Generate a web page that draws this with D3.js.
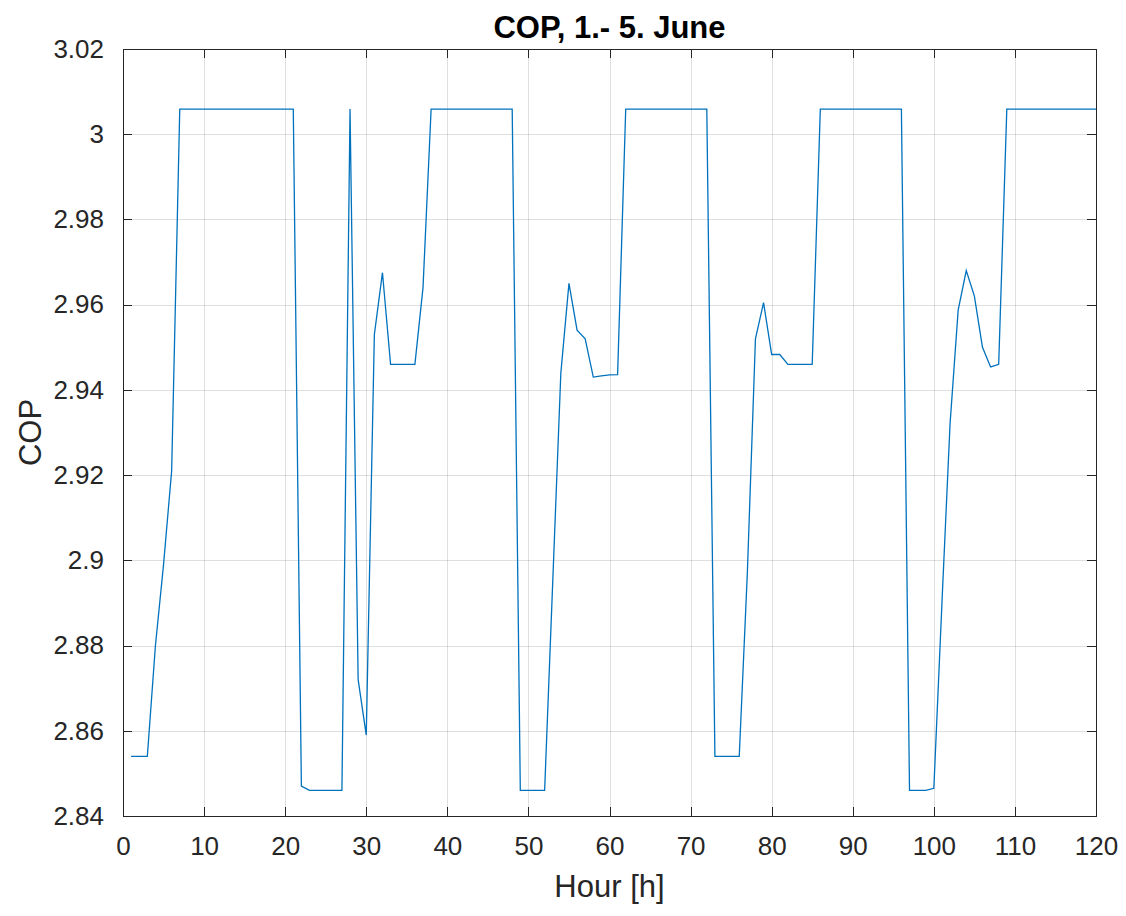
<!DOCTYPE html>
<head>
    <meta charset="utf-8">
    <style>
      body {
          margin: 0;
          background: #fff;
          font-family: 'Liberation Sans', Arial, sans-serif;
      }

      .grid line {
        stroke: #262626;
        stroke-opacity: 0.15;
        stroke-width: 1px;
        shape-rendering: crispEdges;
      }

      .axis path, .axis line {
        stroke: #262626;
        shape-rendering: crispEdges;
      }

      .axis text {
        fill: #262626;
        font-size: 26px;
      }

      .line {
        fill: none;
        stroke: #0072bd;
        stroke-width: 1.3px;
      }
  </style>
</head>
<body>
<svg id="chart" width="1126" height="916"></svg>
<script src="https://cdn.jsdelivr.net/npm/d3@7"></script>
<script>
  // hourly COP, hour 1 .. 120
  const hours = d3.range(1, 121);
  const cop = [
    2.854, 2.854, 2.854, 2.880, 2.899, 2.921,
    3.0059, 3.0059, 3.0059, 3.0059, 3.0059, 3.0059, 3.0059, 3.0059,
    3.0059, 3.0059, 3.0059, 3.0059, 3.0059, 3.0059, 3.0059,
    2.847, 2.846, 2.846, 2.846, 2.846, 2.846,
    3.0059, 2.872, 2.859, 2.953, 2.9675, 2.946, 2.946, 2.946, 2.946, 2.964,
    3.0059, 3.0059, 3.0059, 3.0059, 3.0059, 3.0059, 3.0059, 3.0059, 3.0059, 3.0059, 3.0059,
    2.846, 2.846, 2.846, 2.846,
    2.895, 2.944, 2.965, 2.954, 2.952, 2.943, 2.9433, 2.9435, 2.9436,
    3.0059, 3.0059, 3.0059, 3.0059, 3.0059, 3.0059, 3.0059, 3.0059, 3.0059, 3.0059, 3.0059,
    2.854, 2.854, 2.854, 2.854,
    2.897, 2.952, 2.9605, 2.9483, 2.9483, 2.946, 2.946, 2.946, 2.946,
    3.0059, 3.0059, 3.0059, 3.0059, 3.0059, 3.0059, 3.0059, 3.0059, 3.0059, 3.0059, 3.0059,
    2.846, 2.846, 2.846, 2.8465, 2.890, 2.932, 2.9587, 2.968, 2.962, 2.950, 2.9454, 2.946,
    3.0059, 3.0059, 3.0059, 3.0059, 3.0059, 3.0059, 3.0059, 3.0059, 3.0059, 3.0059, 3.0059, 3.0059
  ];

  const xTicks = [0, 10, 20, 30, 40, 50, 60, 70, 80, 90, 100, 110, 120];
  const yTicks = [2.84, 2.86, 2.88, 2.9, 2.92, 2.94, 2.96, 2.98, 3, 3.02];
  const yTickLabels = ["2.84", "2.86", "2.88", "2.9", "2.92", "2.94", "2.96", "2.98", "3", "3.02"];

  const svg = d3.select("#chart");
  const margin = { top: 49, right: 30, bottom: 100, left: 123 };
  const width = +svg.attr("width") - margin.left - margin.right;
  const height = +svg.attr("height") - margin.top - margin.bottom;

  const g = svg.append("g").attr("transform", `translate(${margin.left},${margin.top})`);

  const x = d3.scaleLinear().domain([0, 120]).range([0, width]);
  const y = d3.scaleLinear().domain([2.84, 3.02]).range([height, 0]);

  // grid
  g.append("g").attr("class", "grid")
    .selectAll("line.v").data(xTicks.slice(1, -1)).join("line")
      .attr("x1", d => Math.round(x(d)) + 0.5).attr("x2", d => Math.round(x(d)) + 0.5)
      .attr("y1", 0).attr("y2", height);
  g.append("g").attr("class", "grid")
    .selectAll("line.h").data(yTicks.slice(1, -1)).join("line")
      .attr("y1", d => Math.round(y(d)) + 0.5).attr("y2", d => Math.round(y(d)) + 0.5)
      .attr("x1", 0).attr("x2", width);

  // data line
  const line = d3.line()
      .x((d, i) => x(hours[i]))
      .y(d => y(d));
  g.append("path")
      .datum(cop)
      .attr("class", "line")
      .attr("d", line);

  // axes, ticks inward, box on
  const tickLen = 9;
  g.append("g")
      .attr("class", "axis")
      .attr("transform", `translate(0,${height})`)
      .call(d3.axisBottom(x).tickValues(xTicks).tickSize(-tickLen).tickPadding(tickLen + 12).tickFormat(d3.format("d")));
  g.append("g")
      .attr("class", "axis")
      .call(d3.axisTop(x).tickValues(xTicks).tickSize(-tickLen).tickFormat(""));
  g.append("g")
      .attr("class", "axis")
      .call(d3.axisLeft(y).tickValues(yTicks).tickSize(-tickLen).tickPadding(tickLen + 10)
        .tickFormat((d, i) => yTickLabels[i]));
  g.append("g")
      .attr("class", "axis")
      .attr("transform", `translate(${width},0)`)
      .call(d3.axisRight(y).tickValues(yTicks).tickSize(-tickLen).tickFormat(""));

  g.selectAll(".axis path").attr("stroke-width", 1.5);

  // labels
  svg.append("text")
      .attr("x", margin.left + width / 2)
      .attr("y", 38)
      .attr("text-anchor", "middle")
      .attr("font-size", 31)
      .attr("font-weight", "bold")
      .attr("fill", "#000")
      .text("COP, 1.- 5. June");

  svg.append("text")
      .attr("x", margin.left + width / 2)
      .attr("y", 897)
      .attr("text-anchor", "middle")
      .attr("font-size", 31)
      .attr("fill", "#262626")
      .text("Hour [h]");

  svg.append("text")
      .attr("transform", `translate(41,${margin.top + height / 2}) rotate(-90)`)
      .attr("text-anchor", "middle")
      .attr("font-size", 31)
      .attr("fill", "#262626")
      .text("COP");
</script>
</body>
